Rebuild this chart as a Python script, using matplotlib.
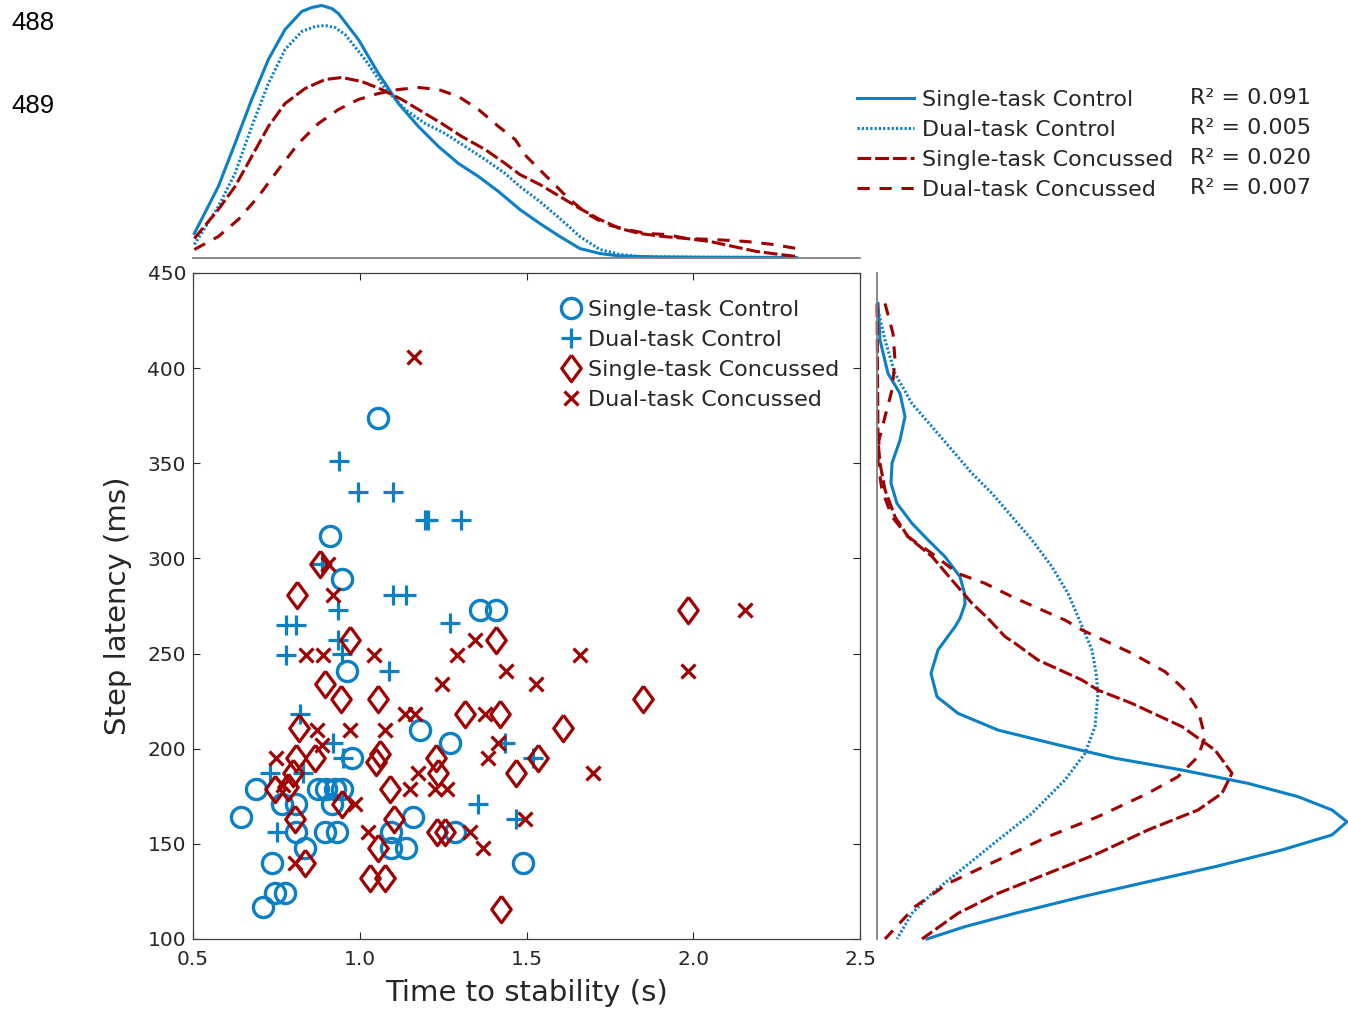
import matplotlib
matplotlib.use('Agg')
import matplotlib.pyplot as plt

plt.rcParams['font.family'] = ['DejaVu Sans']
plt.rcParams['text.color'] = '#262626'

# ---------------- data ----------------
groups = ['Single-task Control', 'Dual-task Control',
          'Single-task Concussed', 'Dual-task Concussed']
r2_labels = ['R\u00b2 = 0.091', 'R\u00b2 = 0.005', 'R\u00b2 = 0.020', 'R\u00b2 = 0.007']

x_ticks = [0.5, 1.0, 1.5, 2.0, 2.5]
x_tick_labels = ['0.5', '1.0', '1.5', '2.0', '2.5']
y_ticks = [100, 150, 200, 250, 300, 350, 400, 450]
y_tick_labels = ['100', '150', '200', '250', '300', '350', '400', '450']

# scatter: time to stability (s) and step latency (ms)
st_ctrl_time = [1.055, 0.911, 0.947, 0.962, 0.976, 1.18, 1.27, 1.36, 1.41, 0.644, 0.69,
                0.736, 0.711, 0.746, 0.776, 0.766, 0.81, 0.81, 0.836, 0.876, 0.90, 0.926,
                0.946, 0.916, 0.896, 0.931, 1.095, 1.095, 1.139, 1.16, 1.286, 1.49]
st_ctrl_lat = [374, 312, 289, 241, 195, 210, 203, 273, 273, 164, 179,
               140, 117, 124, 124, 171, 171, 156, 148, 179, 179, 179,
               179, 171, 156, 156, 156, 148, 148, 164, 156, 140]

dt_ctrl_time = [0.939, 0.994, 1.099, 1.196, 1.206, 1.303, 0.886, 1.10, 1.14, 0.936, 0.78,
                0.81, 1.27, 0.78, 0.936, 0.946, 1.089, 0.821, 0.921, 0.95, 0.731, 0.83,
                0.751, 1.355, 1.435, 1.52, 1.47]
dt_ctrl_lat = [351, 335, 335, 320, 320, 320, 297, 281, 281, 273, 265,
               265, 266, 249, 257, 250, 241, 218, 203, 195, 187, 187,
               156, 171, 203, 195, 163]

st_conc_time = [0.881, 0.811, 0.971, 0.896, 0.943, 1.056, 0.819, 0.809, 0.866, 1.05, 1.06,
                1.229, 1.236, 0.746, 0.785, 0.80, 1.09, 0.946, 0.806, 1.103, 1.056, 0.836,
                1.031, 1.076, 1.231, 1.256, 1.317, 1.41, 1.422, 1.61, 1.535, 1.47, 1.425,
                1.85, 1.985]
st_conc_lat = [297, 281, 257, 234, 226, 226, 211, 195, 195, 193, 197,
               195, 187, 179, 180, 187, 179, 171, 163, 163, 148, 140,
               132, 132, 156, 156, 218, 257, 218, 211, 195, 187, 116,
               226, 273]

dt_conc_time = [1.163, 0.906, 0.921, 0.839, 0.891, 1.044, 1.291, 1.345, 1.248, 1.136, 1.166,
                0.871, 0.971, 1.076, 0.886, 0.749, 1.176, 1.15, 1.226, 1.261, 0.986, 1.026,
                1.33, 1.37, 0.806, 1.375, 1.385, 1.44, 1.528, 1.66, 1.416, 1.70, 1.497,
                2.155, 1.985, 0.77]
dt_conc_lat = [406, 297, 281, 249, 249, 249, 249, 257, 234, 218, 218,
               210, 210, 210, 202, 195, 187, 179, 179, 179, 171, 156,
               156, 148, 140, 218, 195, 241, 234, 249, 203, 187, 163,
               273, 241, 181]

# marginal density of time to stability (top panel)
st_ctrl_kx = [0.504, 0.576, 0.626, 0.676, 0.726, 0.776, 0.826, 0.856, 0.886, 0.916, 0.936,
              0.996, 1.056, 1.116, 1.176, 1.236, 1.296, 1.356, 1.416, 1.48, 1.54, 1.60,
              1.66, 1.72, 1.78, 1.90, 2.05, 2.20, 2.31]
st_ctrl_kd = [0.24, 0.71, 1.14, 1.58, 1.98, 2.28, 2.46, 2.50, 2.52, 2.49, 2.44,
              2.18, 1.84, 1.54, 1.31, 1.11, 0.94, 0.81, 0.66, 0.48, 0.34, 0.21,
              0.09, 0.04, 0.015, 0.005, 0.002, 0.001, 0.0]
dt_ctrl_kx = [0.504, 0.576, 0.626, 0.676, 0.726, 0.776, 0.826, 0.866, 0.896, 0.926, 0.956,
              1.016, 1.076, 1.136, 1.196, 1.256, 1.316, 1.376, 1.436, 1.48, 1.54, 1.60,
              1.66, 1.72, 1.78, 1.84, 2.0, 2.31]
dt_ctrl_kd = [0.13, 0.51, 0.84, 1.31, 1.74, 2.08, 2.26, 2.31, 2.32, 2.30, 2.23,
              1.98, 1.69, 1.48, 1.34, 1.24, 1.11, 0.98, 0.84, 0.71, 0.56, 0.39,
              0.21, 0.08, 0.03, 0.01, 0.003, 0.0]
st_conc_kx = [0.504, 0.576, 0.626, 0.676, 0.726, 0.776, 0.836, 0.896, 0.946, 1.006, 1.066,
              1.126, 1.186, 1.246, 1.306, 1.376, 1.436, 1.48, 1.54, 1.60, 1.66, 1.72,
              1.78, 1.84, 1.91, 1.98, 2.05, 2.12, 2.19, 2.26, 2.31]
st_conc_kd = [0.19, 0.48, 0.71, 1.01, 1.31, 1.54, 1.69, 1.78, 1.80, 1.76, 1.68,
              1.58, 1.46, 1.34, 1.21, 1.08, 0.94, 0.83, 0.73, 0.61, 0.49, 0.38,
              0.29, 0.24, 0.21, 0.19, 0.16, 0.11, 0.06, 0.03, 0.01]
dt_conc_kx = [0.504, 0.576, 0.636, 0.696, 0.756, 0.816, 0.876, 0.936, 0.996, 1.056, 1.116,
              1.176, 1.236, 1.296, 1.356, 1.416, 1.466, 1.50, 1.56, 1.62, 1.68, 1.74,
              1.80, 1.86, 1.92, 1.98, 2.06, 2.16, 2.24, 2.31]
dt_conc_kd = [0.08, 0.21, 0.38, 0.61, 0.88, 1.14, 1.34, 1.48, 1.58, 1.64, 1.68,
              1.70, 1.68, 1.61, 1.48, 1.31, 1.18, 1.01, 0.81, 0.61, 0.44, 0.33,
              0.28, 0.24, 0.23, 0.19, 0.18, 0.16, 0.13, 0.09]

# marginal density of step latency (right panel)
st_ctrl_ky = [434, 414.8, 397.2, 386.7, 374.5, 362.2, 350, 339.5, 328.9, 318.4, 309.7,
              300.9, 290.4, 281.6, 276, 268.5, 264.1, 251.9, 239.6, 227.3, 218.6, 209.8,
              202.8, 195, 188.8, 181.8, 174.8, 167.8, 161.6, 154.7, 146.8, 138, 130.1,
              122.2, 113.5, 106.5, 100]
st_ctrl_kw = [0.01, 0.03, 0.11, 0.23, 0.28, 0.23, 0.15, 0.14, 0.20, 0.35, 0.51,
              0.68, 0.83, 0.875, 0.88, 0.83, 0.78, 0.61, 0.54, 0.60, 0.81, 1.21,
              1.75, 2.38, 3.05, 3.71, 4.21, 4.55, 4.70, 4.55, 4.05, 3.38, 2.71,
              2.05, 1.38, 0.88, 0.50]
dt_ctrl_ky = [430.5, 414.8, 397.2, 381.4, 369.2, 357, 344.7, 334.2, 321.9, 309.7, 295.6,
              281.6, 269.4, 251.9, 240, 229.1, 211.6, 197.6, 183.6, 166.1, 152, 138,
              124, 113.5, 100]
dt_ctrl_kw = [0.01, 0.08, 0.18, 0.35, 0.55, 0.75, 0.95, 1.15, 1.35, 1.55, 1.75,
              1.91, 2.01, 2.15, 2.19, 2.21, 2.18, 2.08, 1.88, 1.55, 1.21, 0.88,
              0.55, 0.35, 0.20]
st_conc_ky = [434, 400, 362, 350, 336, 321.9, 311.4, 301, 288.6, 276.4, 268.5,
              258.9, 255.4, 246.6, 236.1, 230.8, 223.8, 211.6, 199.3, 187.1, 176.6, 167.8,
              157.3, 145, 134.5, 124, 113.5, 100]
st_conc_kw = [0.0, 0.005, 0.01, 0.03, 0.08, 0.18, 0.31, 0.55, 0.75, 0.95, 1.11,
              1.28, 1.38, 1.61, 2.05, 2.21, 2.55, 3.05, 3.38, 3.55, 3.45, 3.21,
              2.71, 2.21, 1.71, 1.21, 0.81, 0.45]
dt_conc_ky = [434, 418.2, 404.3, 388.5, 374.5, 362.2, 350, 336, 321.9, 311.4, 302.6,
              292.1, 286.9, 279.9, 272.9, 267.6, 262.4, 250.1, 240.5, 230.8, 220.3, 206.3,
              195.8, 185.3, 176.6, 164.3, 153.8, 141.5, 129.2, 117, 100]
dt_conc_kw = [0.08, 0.16, 0.18, 0.15, 0.08, 0.02, 0.01, 0.05, 0.15, 0.31, 0.55,
              0.81, 1.08, 1.35, 1.65, 1.88, 2.05, 2.55, 2.88, 3.08, 3.21, 3.28,
              3.21, 3.01, 2.71, 2.21, 1.71, 1.21, 0.71, 0.38, 0.08]

# ---------------- style ----------------
BLUE = '#0B80C6'
RED = '#A00000'
TXT = '#262626'
W, H = 1348, 1011

def fx(px):
    return px / W

def fy(py):
    return 1 - py / H

fig = plt.figure(figsize=(W / 100, H / 100), dpi=100)
ax = fig.add_axes([fx(193), fy(939), fx(860) - fx(193), fy(273) - fy(939)])
ax_top = fig.add_axes([fx(193), fy(257.5), fx(860) - fx(193), fy(0) - fy(257.5)])
ax_rt = fig.add_axes([fx(877), fy(939), fx(1348) - fx(877), fy(273) - fy(939)])

diamond = [(0, 1), (0.74, 0), (0, -1), (-0.74, 0), (0, 1)]

# scatter
h1, = ax.plot(st_ctrl_time, st_ctrl_lat, linestyle='none', marker='o', ms=14.5,
              mfc='none', mec=BLUE, mew=2.4, label=groups[0])
h2, = ax.plot(dt_ctrl_time, dt_ctrl_lat, linestyle='none', marker='+', ms=14.5,
              mec=BLUE, mew=2.3, label=groups[1])
h3, = ax.plot(st_conc_time, st_conc_lat, linestyle='none', marker=diamond, ms=19,
              mfc='none', mec=RED, mew=2.3, label=groups[2])
h4, = ax.plot(dt_conc_time, dt_conc_lat, linestyle='none', marker='x', ms=10,
              mec=RED, mew=2.3, label=groups[3])

ax.set_xlim(0.5, 2.5)
ax.set_ylim(100, 450)
ax.set_xticks(x_ticks)
ax.set_xticklabels(x_tick_labels)
ax.set_yticks(y_ticks)
ax.set_yticklabels(y_tick_labels)
ax.tick_params(direction='in', length=5, width=0.8, colors=TXT, labelsize=14.5,
               top=True, right=True)
ax.tick_params(axis='x', pad=8)
ax.tick_params(axis='y', pad=5)
for s in ax.spines.values():
    s.set_color('#404040')
    s.set_linewidth(0.9)
ax.set_xlabel('Time to stability (s)', fontsize=21, color=TXT, labelpad=7)
ax.set_ylabel('Step latency (ms)', fontsize=21, color=TXT, labelpad=11)

ax.legend(handles=[h1, h2, h3, h4], loc='upper left', bbox_to_anchor=(0.550, 0.9595),
          frameon=False, fontsize=16, handlelength=1.0, handletextpad=0.25,
          labelspacing=0.45, borderpad=0, borderaxespad=0)

# marginal densities
lw = 2.2
styles = ['-', (0, (0.7, 0.7)), (0, (4.5, 1.3)), (0, (4.0, 3.2))]
colors = [BLUE, BLUE, RED, RED]
top_x = [st_ctrl_kx, dt_ctrl_kx, st_conc_kx, dt_conc_kx]
top_d = [st_ctrl_kd, dt_ctrl_kd, st_conc_kd, dt_conc_kd]
rt_y = [st_ctrl_ky, dt_ctrl_ky, st_conc_ky, dt_conc_ky]
rt_w = [st_ctrl_kw, dt_ctrl_kw, st_conc_kw, dt_conc_kw]

line_handles = []
for i in range(4):
    ln, = ax_top.plot(top_x[i], top_d[i], color=colors[i], linestyle=styles[i], lw=lw,
                      label=groups[i], clip_on=False)
    line_handles.append(ln)
    ax_rt.plot(rt_w[i], rt_y[i], color=colors[i], linestyle=styles[i], lw=lw, clip_on=False)

ax_top.set_xlim(0.5, 2.5)
ax_top.set_ylim(0, 2.575)
ax_top.axis('off')
ax_top.plot([0, 1], [0, 0], transform=ax_top.transAxes, color='#808080', lw=1.3,
            clip_on=False)

ax_rt.set_ylim(100, 450)
ax_rt.set_xlim(0, 4.71)
ax_rt.axis('off')
ax_rt.plot([0, 0], [0, 1], transform=ax_rt.transAxes, color='#808080', lw=1.3,
           clip_on=False)

# legend for densities
fig.legend(handles=line_handles, labels=groups, loc='upper left',
           bbox_to_anchor=(fx(857), fy(90)), frameon=False, fontsize=16,
           handlelength=2.57, handletextpad=0.36, labelspacing=0.45,
           borderpad=0, borderaxespad=0)
for k, lab in enumerate(r2_labels):
    fig.text(fx(1190), fy(98 + 30 * k), lab, fontsize=16, va='center', ha='left', color=TXT)

# manuscript line numbers
fig.text(fx(11), fy(23), '488', fontsize=18.5, va='center', ha='left',
         family=['Liberation Sans'], color='black')
fig.text(fx(11), fy(106), '489', fontsize=18.5, va='center', ha='left',
         family=['Liberation Sans'], color='black')

fig.savefig('out.png', dpi=100)
